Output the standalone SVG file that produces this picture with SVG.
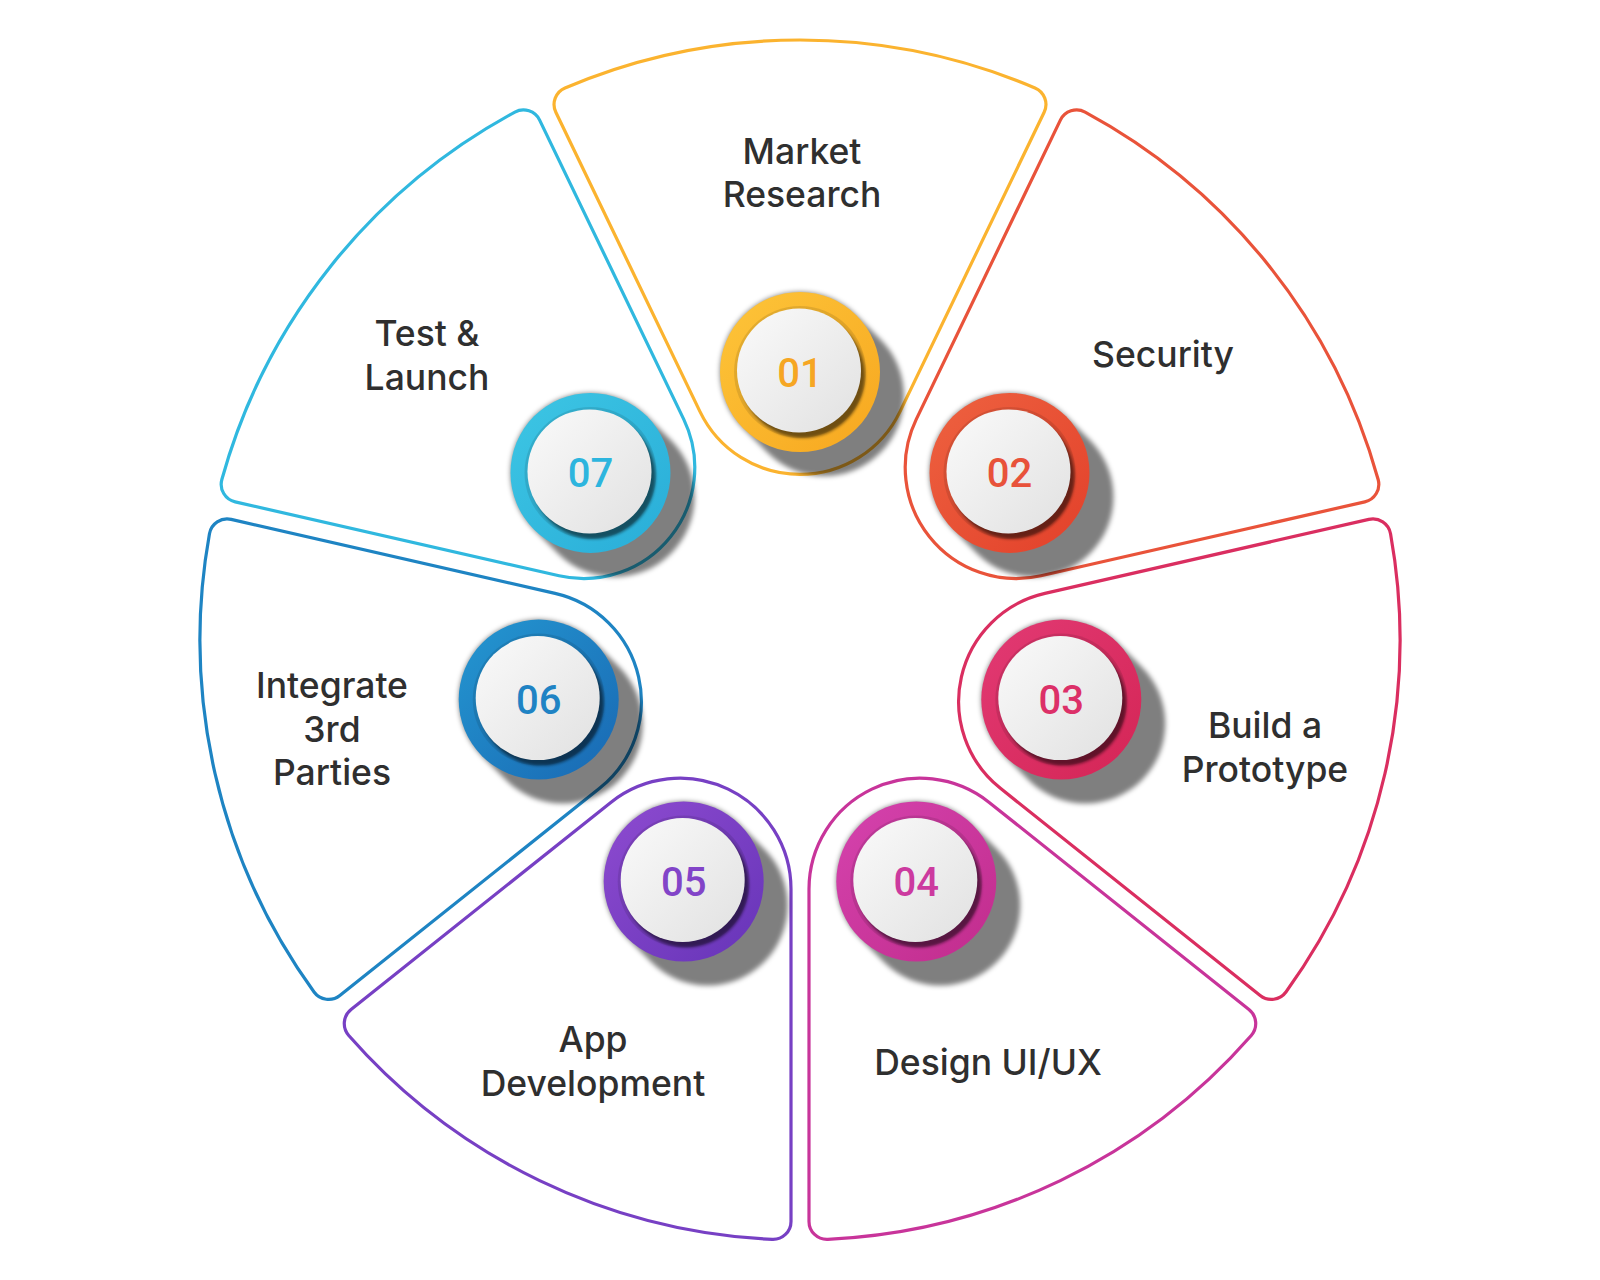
<svg xmlns="http://www.w3.org/2000/svg" width="1600" height="1280" viewBox="0 0 1600 1280">
<defs>
<style>
.seg{fill:none;stroke-width:3.2;stroke-linejoin:round}
.lbl{font-family:Inter,"Noto Sans","Liberation Sans",sans-serif;font-size:35.5px;font-weight:500;fill:#2f2f2f;text-anchor:middle}
.num{font-family:Roboto,"Liberation Sans",Arial,sans-serif;font-size:40px;font-weight:500;text-anchor:middle}
.band{fill:#000;fill-opacity:0.1}
</style>
<path id="wedge" d="M -100.01 -228.41 L -244.15 -527.72 A 18 18 0 0 1 -234.98 -552.09 A 600 600 0 0 1 234.98 -552.09 A 18 18 0 0 1 244.15 -527.72 L 100.01 -228.41 A 111 111 0 0 1 -100.01 -228.41 Z"/>
<filter id="blur"><feGaussianBlur stdDeviation="2.5"/></filter>
<filter id="blur2" x="-20%" y="-20%" width="140%" height="140%"><feGaussianBlur stdDeviation="1.5"/></filter>
<linearGradient id="disc" x1="0" y1="0" x2="1" y2="1"><stop offset="0" stop-color="#fafafa"/><stop offset="1" stop-color="#e1e1e1"/></linearGradient>
<path id="shadow" d="M 56.57 -56.57 L 80.57 -32.57 A 80 80 0 0 1 -32.57 80.57 L -56.57 56.57 A 80 80 0 0 1 56.57 -56.57 Z" fill="#000" fill-opacity="0.5" filter="url(#blur)"/>
<circle id="discshadow" cx="3" cy="4" r="62" fill="#000" fill-opacity="0.5" filter="url(#blur2)"/>
<circle id="discface" cx="-1" cy="-1.5" r="62" fill="url(#disc)"/>
<linearGradient id="g1" x1="0" y1="0" x2="1" y2="1"><stop offset="0" stop-color="#FDC53A"/><stop offset="1" stop-color="#F7A71F"/></linearGradient>
<linearGradient id="g2" x1="0" y1="0" x2="1" y2="1"><stop offset="0" stop-color="#EE6240"/><stop offset="1" stop-color="#E2402A"/></linearGradient>
<linearGradient id="g3" x1="0" y1="0" x2="1" y2="1"><stop offset="0" stop-color="#E23A74"/><stop offset="1" stop-color="#D42555"/></linearGradient>
<linearGradient id="g4" x1="0" y1="0" x2="1" y2="1"><stop offset="0" stop-color="#D543AE"/><stop offset="1" stop-color="#C12C8C"/></linearGradient>
<linearGradient id="g5" x1="0" y1="0" x2="1" y2="1"><stop offset="0" stop-color="#8E4BD0"/><stop offset="1" stop-color="#6634B8"/></linearGradient>
<linearGradient id="g6" x1="0" y1="0" x2="1" y2="1"><stop offset="0" stop-color="#2497D1"/><stop offset="1" stop-color="#1968B3"/></linearGradient>
<linearGradient id="g7" x1="0" y1="0" x2="1" y2="1"><stop offset="0" stop-color="#3DC6E4"/><stop offset="1" stop-color="#29ADD8"/></linearGradient>
</defs>
<rect width="1600" height="1280" fill="#ffffff"/>

<g id="node-01">
<use href="#wedge" class="seg" stroke="#FBB32F" transform="translate(800 640) rotate(0)"/>
<text class="lbl" x="802" y="164">Market</text>
<text class="lbl" x="802" y="207">Research</text>
<g transform="translate(800 372)">
<use href="#shadow"/><circle r="80" fill="url(#g1)"/><circle r="66" class="band"/><use href="#discshadow"/><use href="#discface"/>
<text class="num" y="14.5" fill="#F6A623">01</text>
</g>
</g>

<g id="node-02">
<use href="#wedge" class="seg" stroke="#E9533A" transform="translate(800 640) rotate(51.428571)"/>
<text class="lbl" x="1163" y="367">Security</text>
<g transform="translate(1009.5 472.9)">
<use href="#shadow"/><circle r="80" fill="url(#g2)"/><circle r="66" class="band"/><use href="#discshadow"/><use href="#discface"/>
<text class="num" y="14.5" fill="#E8523A">02</text>
</g>
</g>

<g id="node-03">
<use href="#wedge" class="seg" stroke="#DA2E60" transform="translate(800 640) rotate(102.857143)"/>
<text class="lbl" x="1265" y="738">Build a</text>
<text class="lbl" x="1265" y="782">Prototype</text>
<g transform="translate(1061.3 699.6)">
<use href="#shadow"/><circle r="80" fill="url(#g3)"/><circle r="66" class="band"/><use href="#discshadow"/><use href="#discface"/>
<text class="num" y="14.5" fill="#DC3068">03</text>
</g>
</g>

<g id="node-04">
<use href="#wedge" class="seg" stroke="#C8349A" transform="translate(800 640) rotate(154.285714)"/>
<text class="lbl" x="988" y="1075">Design UI/UX</text>
<g transform="translate(916.3 881.5)">
<use href="#shadow"/><circle r="80" fill="url(#g4)"/><circle r="66" class="band"/><use href="#discshadow"/><use href="#discface"/>
<text class="num" y="14.5" fill="#CC3A9F">04</text>
</g>
</g>

<g id="node-05">
<use href="#wedge" class="seg" stroke="#7740C4" transform="translate(800 640) rotate(205.714286)"/>
<text class="lbl" x="593" y="1052">App</text>
<text class="lbl" x="593" y="1096">Development</text>
<g transform="translate(683.7 881.5)">
<use href="#shadow"/><circle r="80" fill="url(#g5)"/><circle r="66" class="band"/><use href="#discshadow"/><use href="#discface"/>
<text class="num" y="14.5" fill="#8244C8">05</text>
</g>
</g>

<g id="node-06">
<use href="#wedge" class="seg" stroke="#1E84C3" transform="translate(800 640) rotate(257.142857)"/>
<text class="lbl" x="332" y="698">Integrate</text>
<text class="lbl" x="332" y="742">3rd</text>
<text class="lbl" x="332" y="785">Parties</text>
<g transform="translate(538.7 699.6)">
<use href="#shadow"/><circle r="80" fill="url(#g6)"/><circle r="66" class="band"/><use href="#discshadow"/><use href="#discface"/>
<text class="num" y="14.5" fill="#1F83C4">06</text>
</g>
</g>

<g id="node-07">
<use href="#wedge" class="seg" stroke="#30B8DF" transform="translate(800 640) rotate(308.571429)"/>
<text class="lbl" x="427" y="346">Test &amp;</text>
<text class="lbl" x="427" y="390">Launch</text>
<g transform="translate(590.5 472.9)">
<use href="#shadow"/><circle r="80" fill="url(#g7)"/><circle r="66" class="band"/><use href="#discshadow"/><use href="#discface"/>
<text class="num" y="14.5" fill="#2DB5DE">07</text>
</g>
</g>
</svg>
